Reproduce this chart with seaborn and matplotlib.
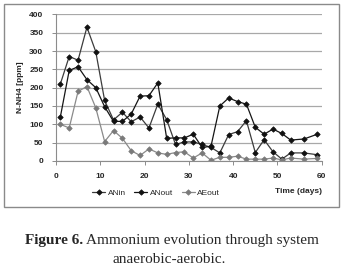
import pandas as pd
import seaborn as sns
import matplotlib.pyplot as plt
from matplotlib.patches import Rectangle

# days of sampling
days = [1, 3, 5, 7, 9, 11, 13, 15, 17, 19, 21, 23, 25, 27, 29, 31, 33, 35,
        37, 39, 41, 43, 45, 47, 49, 51, 53, 56, 59]

# N-NH4 [ppm]
an_in = [210, 285, 275, 365, 298, 165, 112, 133, 107, 120, 90, 155, 113, 45,
         52, 52, 45, 37, 22, 72, 80, 110, 23, 58, 25, 5, 22, 22, 17]
an_out = [120, 247, 257, 222, 200, 148, 108, 108, 128, 177, 178, 213, 62, 63,
          63, 73, 37, 40, 150, 172, 162, 155, 92, 73, 87, 75, 57, 60, 73]
ae_out = [100, 90, 190, 203, 145, 53, 83, 62, 28, 15, 33, 22, 18, 23, 25, 8,
          22, 2, 10, 10, 13, 5, 5, 5, 8, 3, 8, 5, 7]

series = ['ANin', 'ANout', 'AEout']
colors = ['#3c3c3c', '#151515', '#8a8a8a']
marker_colors = ['#111111', '#111111', '#7a7a7a']

df = pd.DataFrame({
    'day': days * 3,
    'value': an_in + an_out + ae_out,
    'serie': [s for s in series for _ in days],
})

sns.set_style('white')
plt.rcParams['font.family'] = ['Liberation Sans', 'DejaVu Sans']

fig = plt.figure(figsize=(3.43, 2.71), dpi=100)
ax = fig.add_axes([0.163, 0.406, 0.775, 0.541])

sns.lineplot(data=df, x='day', y='value', hue='serie', style='serie',
             markers=['D', 'D', 'D'], dashes=False, palette=colors,
             markersize=2.8, linewidth=0.9, legend=False, ax=ax)

for line, mc in zip(ax.lines, marker_colors):
    line.set_markerfacecolor(mc)
    line.set_markeredgecolor(mc)
    line.set_markeredgewidth(0.5)

ax.set_xlim(0, 60)
ax.set_ylim(0, 400)
ax.set_xticks(range(0, 61, 10))
ax.set_yticks(range(0, 401, 50))
ax.yaxis.grid(True, color='#a8a8a8', linewidth=0.9)
ax.set_axisbelow(True)
for s in ['top', 'right']:
    ax.spines[s].set_visible(False)
for s in ['left', 'bottom']:
    ax.spines[s].set_color('#8c8c8c')
    ax.spines[s].set_linewidth(0.8)
ax.tick_params(axis='both', labelsize=6, length=3, width=0.7, color='#8c8c8c',
               pad=6, bottom=True, left=True)
for lab in ax.get_xticklabels() + ax.get_yticklabels():
    lab.set_fontweight('bold')
ax.set_xlabel('')
ax.set_ylabel('N-NH4 [ppm]', fontsize=6, fontweight='bold', labelpad=4)

fig.text(0.938, 0.292, 'Time (days)', fontsize=6, fontweight='bold',
         ha='right', va='center')

ax.legend(ax.lines[:3], series, loc='center', ncol=3, frameon=False,
          bbox_to_anchor=(0.455, 0.288), bbox_transform=fig.transFigure,
          fontsize=6, handlelength=1.6, handletextpad=0.3, columnspacing=1.0)

fig.add_artist(Rectangle((0.0125, 0.236), 0.976, 0.749, transform=fig.transFigure,
                         fill=False, edgecolor='#8a8a8a', linewidth=1.0))

t1 = fig.text(0.073, 0.114, 'Figure 6.', fontsize=11, fontweight='bold',
              family='Liberation Serif', ha='left', va='center')
ax.annotate(' Ammonium evolution through system', xy=(1, 0.5), xycoords=t1,
            va='center', ha='left', fontsize=11, family='Liberation Serif',
            annotation_clip=False)
fig.text(0.494, 0.041, 'anaerobic-aerobic.', fontsize=11,
         family='Liberation Serif', ha='center', va='center')

fig.savefig('out.png', dpi=100)
